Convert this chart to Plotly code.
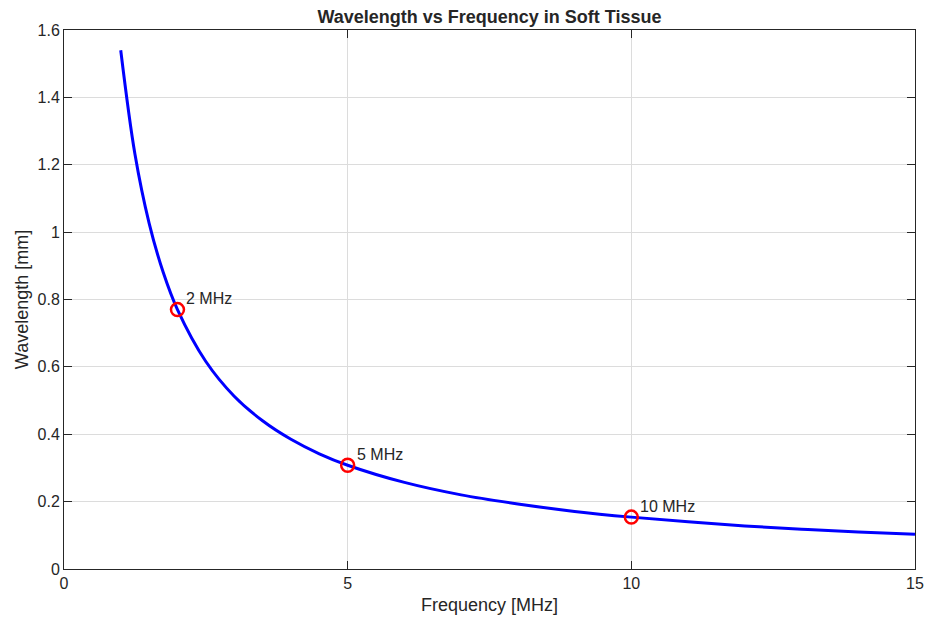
import plotly.graph_objects as go

# Values
freq_mhz = [1, 1.25, 1.5, 1.75, 2, 2.5, 3, 3.5, 4, 4.5, 5, 6, 7, 8, 9, 10, 11, 12, 13, 14, 15]
wavelength_mm = [1.54, 1.232, 1.027, 0.88, 0.77, 0.616, 0.513, 0.44, 0.385, 0.342, 0.308,
                 0.257, 0.22, 0.193, 0.171, 0.154, 0.14, 0.128, 0.118, 0.11, 0.103]

marker_freq = [2, 5, 10]
marker_wl = [0.77, 0.308, 0.154]
marker_labels = ["2 MHz", "5 MHz", "10 MHz"]

x_ticks = [0, 5, 10, 15]
y_ticks = [0, 0.2, 0.4, 0.6, 0.8, 1.0, 1.2, 1.4, 1.6]
y_tick_text = ["0", "0.2", "0.4", "0.6", "0.8", "1", "1.2", "1.4", "1.6"]

FONT = "Liberation Sans, Arial, Helvetica, sans-serif"
TXT = "#262626"

fig = go.Figure()
fig.add_trace(go.Scatter(
    x=freq_mhz, y=wavelength_mm, mode="lines",
    line=dict(color="#0000ff", width=3, shape="spline", smoothing=1.0),
    showlegend=False, hoverinfo="skip"))
fig.add_trace(go.Scatter(
    x=marker_freq, y=marker_wl, mode="markers",
    marker=dict(symbol="circle-open", size=13, color="#ff0000", line=dict(width=2.5, color="#ff0000")),
    showlegend=False))

for f, w, t in zip(marker_freq, marker_wl, marker_labels):
    fig.add_annotation(x=f, y=w, text=t, showarrow=False,
                       xanchor="left", yanchor="middle", xshift=7, yshift=11,
                       font=dict(family=FONT, size=16, color=TXT))

axis_common = dict(
    showline=True, linecolor=TXT, linewidth=1, mirror="ticks",
    ticks="inside", ticklen=8, tickcolor=TXT, tickwidth=1,
    showgrid=True, gridcolor="#dcdcdc", gridwidth=1,
    zeroline=False, automargin=False, ticklabeloverflow="allow",
    tickfont=dict(family=FONT, size=16, color=TXT),
)

fig.update_xaxes(range=[0, 15], tickvals=x_ticks,
                 title=dict(text="Frequency [MHz]", standoff=7,
                            font=dict(family=FONT, size=18, color=TXT)), **axis_common)
fig.update_yaxes(range=[0, 1.6], tickvals=y_ticks, ticktext=y_tick_text,
                 title=dict(text="Wavelength [mm]", standoff=4,
                            font=dict(family=FONT, size=18, color=TXT)), **axis_common)

fig.update_layout(
    width=926, height=618,
    margin=dict(l=64, r=11, t=30, b=49),
    plot_bgcolor="white", paper_bgcolor="white",
    title=dict(text="<b>Wavelength vs Frequency in Soft Tissue</b>",
               x=489.5 / 926, xanchor="center",
               y=1 - 17 / 618, yanchor="middle",
               font=dict(family=FONT, size=18, color=TXT)),
)

fig.write_html(
    "out.html",
    config={"displayModeBar": False},
    post_script="document.body.style.margin='0';document.body.style.overflow='hidden';",
)
